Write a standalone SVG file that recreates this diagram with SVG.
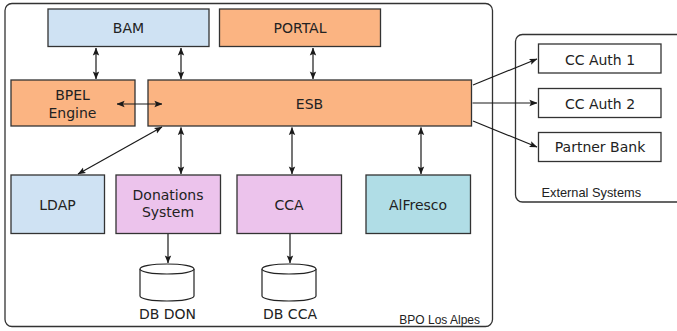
<svg xmlns="http://www.w3.org/2000/svg" width="677" height="331" viewBox="0 0 677 331">
<defs>
<marker id="ah" viewBox="0 0 10 10" refX="9.5" refY="5" markerWidth="8" markerHeight="8" markerUnits="userSpaceOnUse" orient="auto-start-reverse">
<path d="M0,1 L10,5 L0,9 L2,5 Z" fill="#1a1a1a"/>
</marker>
<style>
.box{stroke:#333;stroke-width:1.3}
.blue{fill:#cfe2f3}
.orange{fill:#fbb482}
.pink{fill:#ecc3ec}
.teal{fill:#b0dde6}
.white{fill:#fff}
.cont{fill:#fff;stroke:#333;stroke-width:1.3}
.t{font-family:"DejaVu Sans",sans-serif;font-size:14px;fill:#222;text-anchor:middle}
.s{font-family:"Liberation Sans",Arial,sans-serif;fill:#222}
.c{stroke:#1a1a1a;stroke-width:1.2;fill:none}
.db{fill:#fff;stroke:#222;stroke-width:1.2}
</style>
</defs>
<rect width="677" height="331" fill="#fff"/>
<g id="bpo-container">
<rect class="cont" x="5" y="3.5" width="487.5" height="323" rx="7"/>
<text class="s" x="480" y="324" font-size="12" text-anchor="end">BPO Los Alpes</text>
</g>
<g id="external-container">
<rect class="cont" x="515.5" y="34.5" width="175" height="167.5" rx="7"/>
<text class="s" x="541.5" y="196.5" font-size="12.8">External Systems</text>
</g>
<g id="bam"><rect class="box blue" x="48" y="9" width="161" height="37.5"/><text class="t" x="128.5" y="33">BAM</text></g>
<g id="portal"><rect class="box orange" x="219.5" y="9" width="161" height="37.5"/><text class="t" x="300" y="33">PORTAL</text></g>
<g id="bpel"><rect class="box orange" x="11" y="80" width="124" height="46"/><text class="t" x="72.5" y="100">BPEL</text><text class="t" x="72.5" y="117.5">Engine</text></g>
<g id="esb"><rect class="box orange" x="148" y="80" width="323.5" height="46"/><text class="t" x="309.5" y="108.5">ESB</text></g>
<g id="ldap"><rect class="box blue" x="11" y="175" width="93.5" height="58.5"/><text class="t" x="57.5" y="210">LDAP</text></g>
<g id="donations"><rect class="box pink" x="116" y="175" width="104.5" height="58.5"/><text class="t" x="168" y="200">Donations</text><text class="t" x="168" y="217">System</text></g>
<g id="cca"><rect class="box pink" x="237" y="175" width="104.5" height="58.5"/><text class="t" x="289" y="210">CCA</text></g>
<g id="alfresco"><rect class="box teal" x="366" y="175" width="104.5" height="58.5"/><text class="t" x="418" y="209.5">AlFresco</text></g>
<g id="db-don">
<path class="db" d="M140,269 A27,5 0 0 1 194,269 L194,296 A27,5 0 0 1 140,296 Z"/>
<path class="db" d="M140,269 A27,5 0 0 0 194,269"/>
<text class="t" x="167.5" y="318.5">DB DON</text>
</g>
<g id="db-cca">
<path class="db" d="M262,269 A27,5 0 0 1 316,269 L316,296 A27,5 0 0 1 262,296 Z"/>
<path class="db" d="M262,269 A27,5 0 0 0 316,269"/>
<text class="t" x="290" y="318.5">DB CCA</text>
</g>
<g id="cc-auth-1"><rect class="box white" x="538.5" y="44" width="122.5" height="29"/><text class="t" x="600" y="64.5">CC Auth 1</text></g>
<g id="cc-auth-2"><rect class="box white" x="538.5" y="88.5" width="122.5" height="29"/><text class="t" x="600" y="108.5">CC Auth 2</text></g>
<g id="partner-bank"><rect class="box white" x="538.5" y="132.5" width="122.5" height="29"/><text class="t" x="600" y="152">Partner Bank</text></g>
<g id="connectors">
<line class="c" x1="96" y1="48" x2="96" y2="79" marker-start="url(#ah)" marker-end="url(#ah)"/>
<line class="c" x1="181" y1="48" x2="181" y2="79" marker-start="url(#ah)" marker-end="url(#ah)"/>
<line class="c" x1="313" y1="48" x2="313" y2="79" marker-start="url(#ah)" marker-end="url(#ah)"/>
<line class="c" x1="117" y1="104" x2="162" y2="104" marker-start="url(#ah)" marker-end="url(#ah)"/>
<line class="c" x1="78" y1="174" x2="162" y2="127" marker-start="url(#ah)" marker-end="url(#ah)"/>
<line class="c" x1="181" y1="127.5" x2="181" y2="174" marker-start="url(#ah)" marker-end="url(#ah)"/>
<line class="c" x1="292" y1="127.5" x2="292" y2="174" marker-start="url(#ah)" marker-end="url(#ah)"/>
<line class="c" x1="421" y1="127.5" x2="421" y2="174" marker-start="url(#ah)" marker-end="url(#ah)"/>
<line class="c" x1="168" y1="234" x2="168" y2="263" marker-end="url(#ah)"/>
<line class="c" x1="290" y1="234" x2="290" y2="263" marker-end="url(#ah)"/>
<line class="c" x1="473" y1="85" x2="537" y2="59" marker-end="url(#ah)"/>
<line class="c" x1="472.5" y1="103" x2="537" y2="103" marker-end="url(#ah)"/>
<line class="c" x1="473" y1="121" x2="537" y2="147" marker-end="url(#ah)"/>
</g>
</svg>
